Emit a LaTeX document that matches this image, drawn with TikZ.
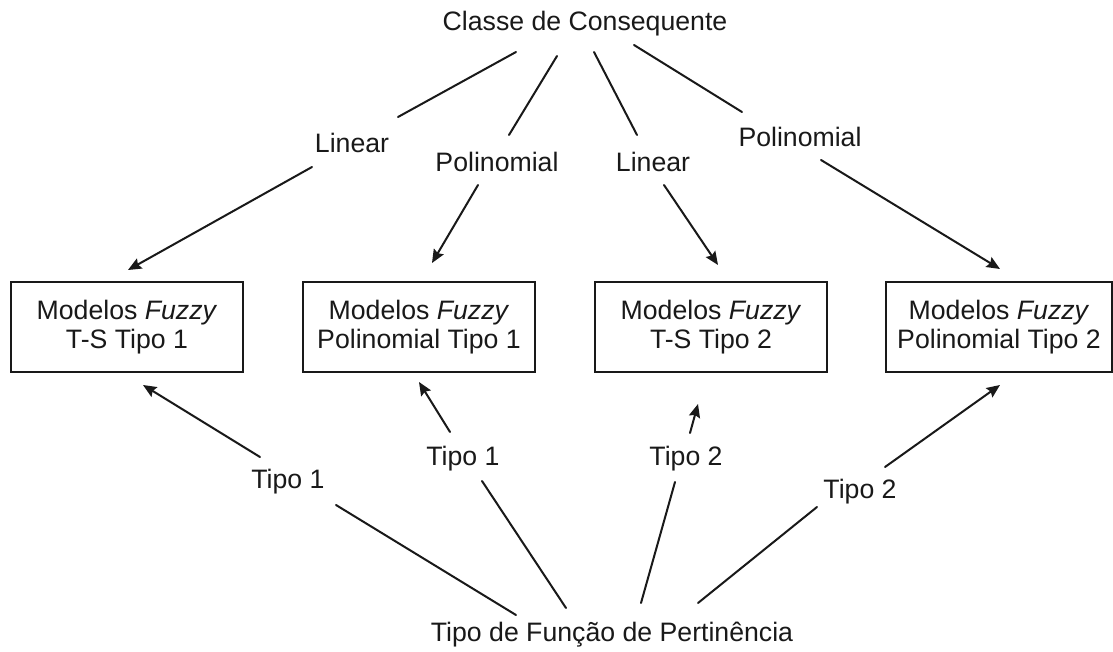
\documentclass[tikz,border=0pt]{standalone}
\usepackage{fontspec}
\setmainfont{Liberation Sans}
\usetikzlibrary{arrows.meta}
\begin{document}
\begin{tikzpicture}[x=0.75pt,y=-0.75pt,
  every node/.style={font=\fontsize{20}{22}\selectfont, inner sep=0pt, align=center, text=black!90},
  box/.style={draw=black!90, line width=1.5pt, minimum width=174pt, minimum height=67.5pt},
  conn/.style={draw=black!90, line width=1.5pt, line cap=round},
  arr/.style={conn, -{Stealth[length=10pt,width=8.5pt,inset=1.5pt]}}]
\useasboundingbox (0,0) rectangle (1113,652);
\fill[white] (0,0) rectangle (1113,652);
% nodes
\node (classe) at (585,24) {Classe de Consequente};
\node (lin1) at (352,143) {Linear};
\node (pol1) at (497,162) {Polinomial};
\node (lin2) at (653,162) {Linear};
\node (pol2) at (800,137) {Polinomial};
\node[box] (box1) at (127,327) {Modelos \textit{Fuzzy}\\T-S Tipo 1};
\node[box] (box2) at (419,327) {Modelos \textit{Fuzzy}\\Polinomial Tipo 1};
\node[box] (box3) at (711,327) {Modelos \textit{Fuzzy}\\T-S Tipo 2};
\node[box, minimum width=169pt] (box4) at (999,327) {Modelos \textit{Fuzzy}\\Polinomial Tipo 2};
\node (t1a) at (288,482) {Tipo 1};
\node (t1b) at (463,459) {Tipo 1};
\node (t2a) at (686,459) {Tipo 2};
\node (t2b) at (860,492) {Tipo 2};
\node (tipo) at (612,635) {Tipo de Função de Pertinência};
% top connectors
\draw[conn] ([shift={(-69,28)}]classe.center) -- ([shift={(46,-26)}]lin1.center);
\draw[arr]  ([shift={(-40,24)}]lin1.center) -- ([shift={(1,-57)}]box1.center);
\draw[conn] ([shift={(-28,32)}]classe.center) -- ([shift={(12,-27)}]pol1.center);
\draw[arr]  ([shift={(-19,23)}]pol1.center) -- ([shift={(13,-64)}]box2.center);
\draw[conn] ([shift={(9,28)}]classe.center) -- ([shift={(-16,-27)}]lin2.center);
\draw[arr]  ([shift={(11,23)}]lin2.center) -- ([shift={(7,-62)}]box3.center);
\draw[conn] ([shift={(49,21)}]classe.center) -- ([shift={(-58,-25)}]pol2.center);
\draw[arr]  ([shift={(21,23)}]pol2.center) -- ([shift={(1,-58)}]box4.center);
% bottom connectors
\draw[conn] ([shift={(-96,-20)}]tipo.center) -- ([shift={(48,23)}]t1a.center);
\draw[arr]  ([shift={(-28,-25)}]t1a.center) -- ([shift={(16,58)}]box1.center);
\draw[conn] ([shift={(-46,-27)}]tipo.center) -- ([shift={(19,22)}]t1b.center);
\draw[arr]  ([shift={(-13,-27)}]t1b.center) -- ([shift={(0,55)}]box2.center);
\draw[conn] ([shift={(29,-32)}]tipo.center) -- ([shift={(-11,23)}]t2a.center);
\draw[arr]  ([shift={(4,-26)}]t2a.center) -- ([shift={(-13,77)}]box3.center);
\draw[conn] ([shift={(86,-32)}]tipo.center) -- ([shift={(-43,15)}]t2b.center);
\draw[arr]  ([shift={(25,-25)}]t2b.center) -- ([shift={(1,58)}]box4.center);
\end{tikzpicture}
\end{document}
